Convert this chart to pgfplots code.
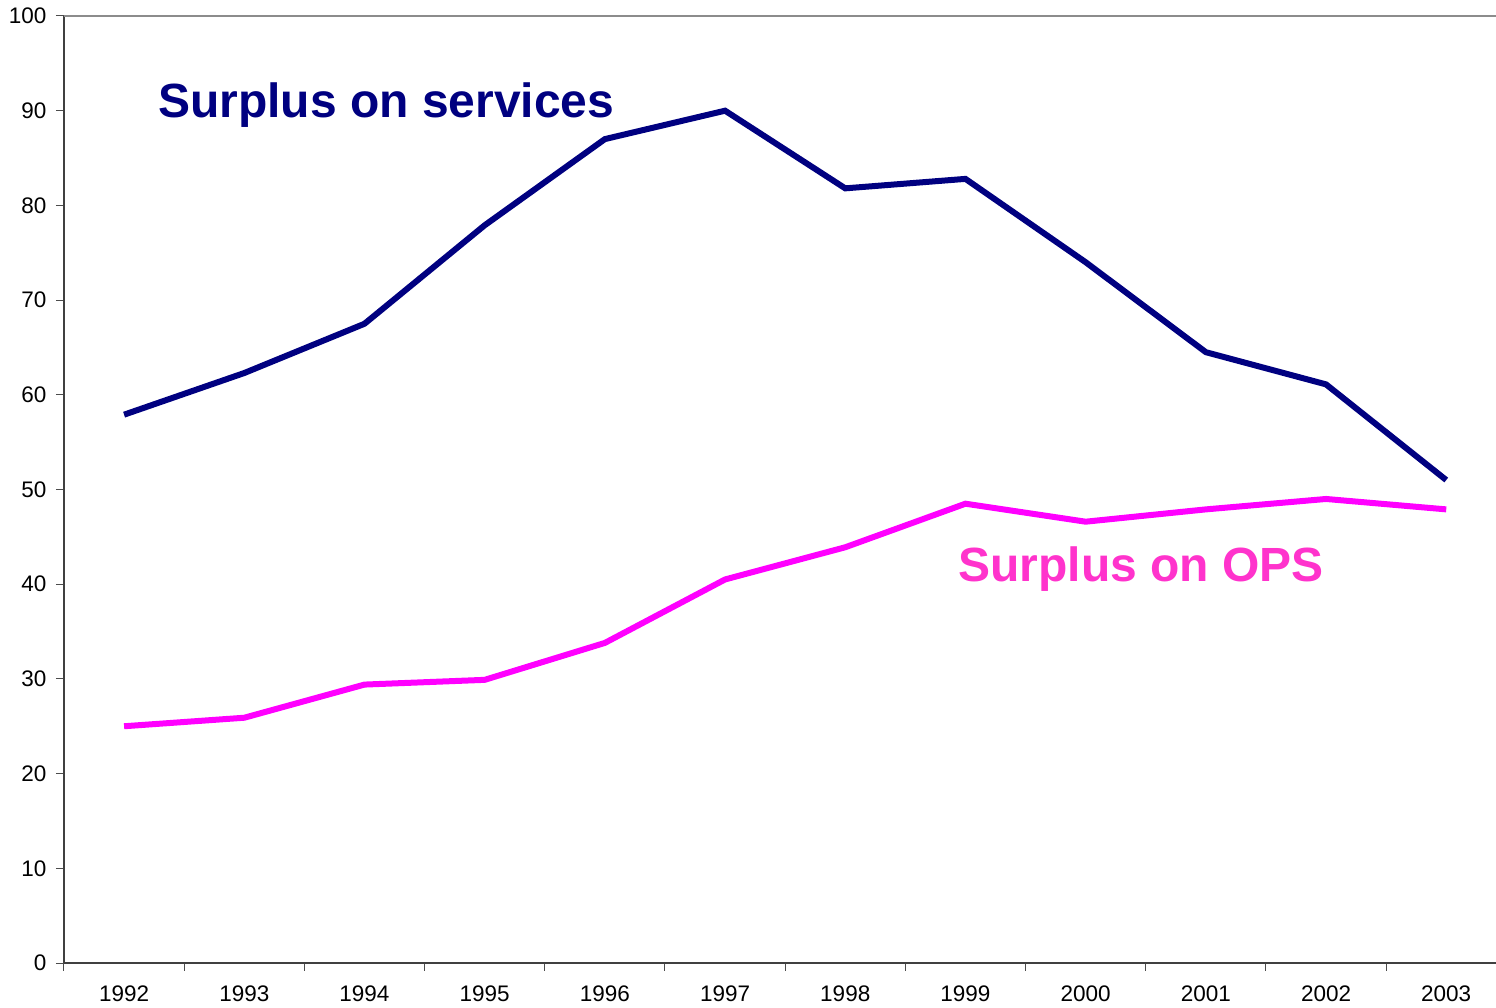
\documentclass[border=0pt]{standalone}
\usepackage{fontspec}
\setmainfont{Liberation Sans}
\usepackage{pgfplots}
\pgfplotsset{compat=1.18}
\definecolor{navyc}{HTML}{000080}
\definecolor{magc}{HTML}{FF00FF}
\definecolor{magt}{HTML}{FF33CC}
\begin{document}
\begin{tikzpicture}
\begin{axis}[
  scale only axis,
  width=1432pt, height=947pt,
  xmin=-0.5, xmax=11.414,
  ymin=0, ymax=100,
  axis x line*=bottom, axis y line*=left,
  axis line style={line width=1.3pt, black!75},
  xtick={0,...,11},
  xticklabels={1992,1993,1994,1995,1996,1997,1998,1999,2000,2001,2002,2003},
  minor xtick={-0.5,0.5,...,10.5},
  major x tick style={draw=none},
  minor x tick style={line width=1pt, black!70},
  minor tick length=8pt,
  ytick={0,10,...,100},
  major y tick style={line width=1pt, black!70},
  major tick length=8pt,
  tick align=outside,
  xticklabel style={font=\fontsize{22.5}{26}\selectfont, yshift=-11pt},
  yticklabel style={font=\fontsize{22.5}{26}\selectfont, xshift=-6pt},
  /pgf/number format/assume math mode=true,
  clip=false,
]
\draw[black!45, line width=1.3pt] (rel axis cs:0,1) -- (rel axis cs:1,1);
\addplot[navyc, line width=6pt, line join=miter] coordinates {
(0,57.9) (1,62.3) (2,67.5) (3,77.9) (4,87.0) (5,90.0) (6,81.8) (7,82.8) (8,74.0) (9,64.5) (10,61.1) (11,51.0)};
\addplot[magc, line width=6pt, line join=miter] coordinates {
(0,25.0) (1,25.9) (2,29.4) (3,29.9) (4,33.8) (5,40.5) (6,43.9) (7,48.5) (8,46.6) (9,47.9) (10,49.0) (11,47.9)};
\node[anchor=base west, inner sep=0pt, text=navyc, font=\fontsize{48}{56}\selectfont\bfseries] at (axis cs:0.282,89.25) {Surplus on services};
\node[anchor=base west, inner sep=0pt, text=magt, font=\fontsize{48}{56}\selectfont\bfseries] at (axis cs:6.94,40.3) {Surplus on OPS};
\end{axis}
\pgfresetboundingbox
\useasboundingbox (-64pt,-44pt) rectangle (1432pt,963pt);
\end{tikzpicture}
\end{document}
